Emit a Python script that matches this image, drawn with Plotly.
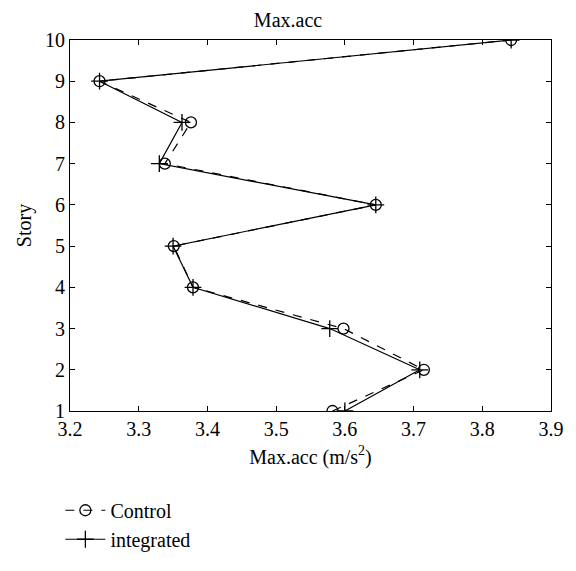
import plotly.graph_objects as go

# Peak floor acceleration per story (m/s^2)
stories = [1, 2, 3, 4, 5, 6, 7, 8, 9, 10]
control_acc = [3.582, 3.715, 3.598, 3.379, 3.351, 3.645, 3.338, 3.376, 3.243, 3.842]
integrated_acc = [3.600, 3.709, 3.578, 3.379, 3.350, 3.645, 3.330, 3.363, 3.243, 3.842]

x_ticks = [3.2, 3.3, 3.4, 3.5, 3.6, 3.7, 3.8, 3.9]
y_ticks = [1, 2, 3, 4, 5, 6, 7, 8, 9, 10]

FONT = "Liberation Serif"
FS = 20

fig = go.Figure()
fig.add_trace(go.Scatter(
    x=control_acc, y=stories, name="Control", mode="lines+markers",
    line=dict(color="black", width=1.2, dash="dash"),
    marker=dict(symbol="circle-open", size=11, color="black", line=dict(width=1.3)),
))
fig.add_trace(go.Scatter(
    x=integrated_acc, y=stories, name="integrated", mode="lines+markers",
    line=dict(color="black", width=1.2),
    marker=dict(symbol="cross-thin-open", size=12, color="black", line=dict(width=1.3)),
))

axis_common = dict(
    showline=True, linecolor="black", linewidth=1, mirror="ticks",
    ticks="inside", ticklen=5, tickwidth=1, tickcolor="black",
    showgrid=False, zeroline=False,
    tickfont=dict(family=FONT, size=FS, color="black"),
)

fig.update_layout(
    width=576, height=571,
    margin=dict(l=70, r=14, t=40, b=135),
    paper_bgcolor="white", plot_bgcolor="white",
    font=dict(family=FONT, size=FS, color="black"),
    title=dict(text="Max.acc", x=0.5, xanchor="center", y=1 - 20 / 571, yanchor="middle",
               font=dict(family=FONT, size=FS, color="black")),
    xaxis=dict(range=[3.2, 3.9], tickvals=x_ticks, ticktext=[f"{v:.1f}" for v in x_ticks],
               title=dict(text="Max.acc (m/s<sup>2</sup>)", standoff=10,
                          font=dict(family=FONT, size=FS)),
               **axis_common),
    yaxis=dict(range=[1, 10], tickvals=y_ticks,
               title=dict(text="Story", standoff=8, font=dict(family=FONT, size=FS)),
               **axis_common),
    legend=dict(x=-0.02, xanchor="left", y=-0.215, yanchor="top",
                bgcolor="rgba(0,0,0,0)", font=dict(family=FONT, size=FS),
                tracegroupgap=0, itemwidth=40),
    showlegend=True,
)

fig.write_html("out.html")
